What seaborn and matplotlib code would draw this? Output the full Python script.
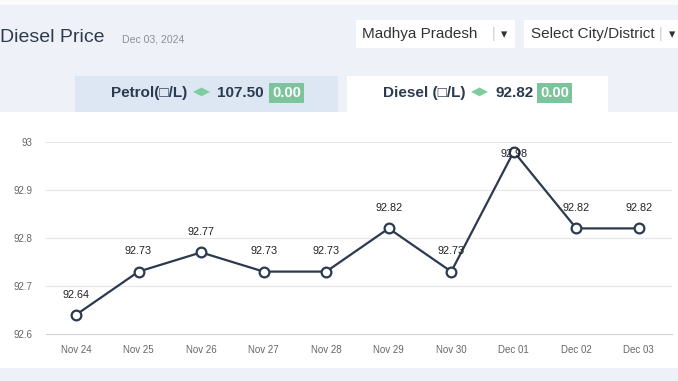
import matplotlib
matplotlib.use('Agg')
import matplotlib.pyplot as plt
import seaborn as sns
from matplotlib.patches import Rectangle

# data
dates = ['Nov 24', 'Nov 25', 'Nov 26', 'Nov 27', 'Nov 28',
         'Nov 29', 'Nov 30', 'Dec 01', 'Dec 02', 'Dec 03']
prices = [92.64, 92.73, 92.77, 92.73, 92.73, 92.82, 92.73, 92.98, 92.82, 92.82]
y_ticks = [92.6, 92.7, 92.8, 92.9, 93.0]
y_tick_labels = ['92.6', '92.7', '92.8', '92.9', '93']

W, H = 678, 381
BG = '#eef2f8'
NAVY = '#2b3a4f'
GREEN = '#7cc49b'


def fx(x):
    return x / W


def fy(y):
    return 1 - y / H


def box(fig, x0, y0, x1, y1, color):
    fig.patches.append(Rectangle((fx(x0), fy(y1)), fx(x1) - fx(x0), fy(y0) - fy(y1),
                                 transform=fig.transFigure, facecolor=color,
                                 edgecolor='none', zorder=-10))


sns.set_theme(style='white')
plt.rcParams['font.family'] = ['Liberation Sans', 'DejaVu Sans']

fig = plt.figure(figsize=(W / 100, H / 100), dpi=100, facecolor=BG)

# white chart panel, tabs and dropdowns
box(fig, 0, 0, W, 5, '#fafbfd')
box(fig, 0, 112, W, 368, 'white')
box(fig, 75, 76, 338, 112, '#dde6f3')
box(fig, 347, 76, 608, 112, 'white')
box(fig, 356, 20, 515, 48, 'white')
box(fig, 524, 20, W, 48, 'white')

# header texts
fig.text(fx(0), fy(38), 'Diesel Price', fontsize=14, color='#2f3b4c', va='center', ha='left')
fig.text(fx(122), fy(39), 'Dec 03, 2024', fontsize=7.6, color='#8a8f99', va='center', ha='left')
fig.text(fx(362), fy(34), 'Madhya Pradesh', fontsize=11, color='#333333', va='center', ha='left')
fig.text(fx(494), fy(34), '|', fontsize=10, color='#cccccc', va='center', ha='center')
fig.text(fx(504), fy(35), '▾', fontsize=9, color='#333333', va='center', ha='center')
fig.text(fx(531), fy(34), 'Select City/District', fontsize=11, color='#333333', va='center', ha='left')
fig.text(fx(661), fy(34), '|', fontsize=10, color='#cccccc', va='center', ha='center')
fig.text(fx(672), fy(35), '▾', fontsize=9, color='#333333', va='center', ha='center')

# tabs
badge = dict(boxstyle='square,pad=0.18', facecolor=GREEN, edgecolor='none')
fig.text(fx(111), fy(93), 'Petrol(□/L)', fontsize=11, fontweight='bold', color=NAVY, va='center')
fig.text(fx(193), fy(93), '◀▶', fontsize=8.5, color='#80cc9f', va='center')
fig.text(fx(217), fy(93), '107.50', fontsize=11, fontweight='bold', color=NAVY, va='center')
fig.text(fx(272), fy(93), '0.00', fontsize=10.5, fontweight='bold', color='white', va='center', bbox=badge)
fig.text(fx(383), fy(93), 'Diesel (□/L)', fontsize=11, fontweight='bold', color=NAVY, va='center')
fig.text(fx(471), fy(93), '◀▶', fontsize=8.5, color='#80cc9f', va='center')
fig.text(fx(496), fy(93), '92.82', fontsize=11, fontweight='bold', color=NAVY, va='center')
fig.text(fx(540), fy(93), '0.00', fontsize=10.5, fontweight='bold', color='white', va='center', bbox=badge)

# chart
ax = fig.add_axes([fx(46), fy(334), fx(672) - fx(46), fy(142) - fy(334)])
ax.set_facecolor('none')
idx = list(range(len(dates)))
sns.lineplot(x=idx, y=prices, ax=ax, color=NAVY, linewidth=1.6, marker='o',
             markersize=7, markerfacecolor='white', markeredgecolor=NAVY,
             markeredgewidth=1.6, clip_on=False, zorder=3)

for i, v in zip(idx, prices):
    ly = min(v + 0.042, 92.975)
    ax.text(i, ly, f'{v:.2f}', ha='center', va='center', fontsize=7.8, color='#222222', zorder=4)

ax.set_xlim(-0.48, 9.53)
ax.set_ylim(92.6, 93.0)
ax.set_yticks(y_ticks)
ax.set_yticklabels(y_tick_labels)
ax.set_xticks(idx)
ax.set_xticklabels(dates)
ax.tick_params(axis='both', length=0, labelsize=7, labelcolor='#666666')
ax.tick_params(axis='y', pad=10)
ax.tick_params(axis='x', pad=8)
for y in y_ticks[1:]:
    ax.axhline(y, color='#e6e6e6', linewidth=0.8, zorder=0)
for s in ['top', 'right', 'left']:
    ax.spines[s].set_visible(False)
ax.spines['bottom'].set_color('#d4d4d4')
ax.spines['bottom'].set_linewidth(0.8)
ax.set_xlabel('')
ax.set_ylabel('')

fig.savefig('out.png', dpi=100, facecolor=BG)
